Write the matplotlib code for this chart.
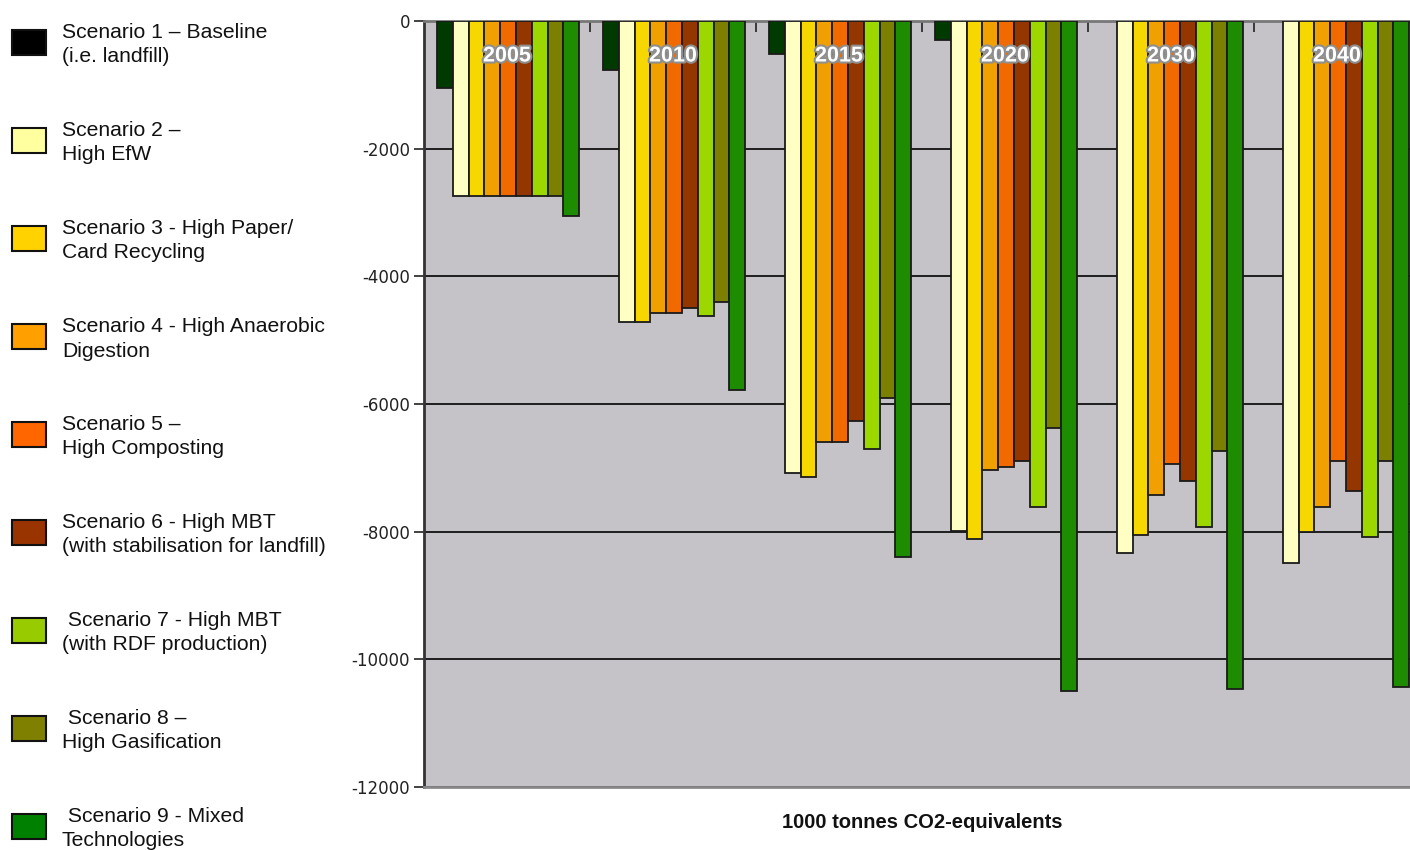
import matplotlib
matplotlib.use("Agg")
import matplotlib.pyplot as plt
import matplotlib.patheffects as pe
import numpy as np
from matplotlib.patches import Rectangle

years = ["2005", "2010", "2015", "2020", "2030", "2040"]
scenario_labels = [
    ["Scenario 1 \u2013 Baseline", "(i.e. landfill)"],
    ["Scenario 2 \u2013", "High EfW"],
    ["Scenario 3 - High Paper/", "Card Recycling"],
    ["Scenario 4 - High Anaerobic", "Digestion"],
    ["Scenario 5 \u2013", "High Composting"],
    ["Scenario 6 - High MBT", "(with stabilisation for landfill)"],
    [" Scenario 7 - High MBT", "(with RDF production)"],
    [" Scenario 8 \u2013", "High Gasification"],
    [" Scenario 9 - Mixed", "Technologies"],
]
s1 = [-1050, -770, -520, -300, 0, 0]
s2 = [-2740, -4710, -7080, -7990, -8330, -8490]
s3 = [-2740, -4710, -7140, -8110, -8050, -8010]
s4 = [-2740, -4580, -6600, -7030, -7420, -7610]
s5 = [-2740, -4580, -6600, -6980, -6940, -6890]
s6 = [-2740, -4500, -6270, -6890, -7210, -7360]
s7 = [-2740, -4620, -6700, -7610, -7920, -8080]
s8 = [-2740, -4400, -5910, -6380, -6740, -6890]
s9 = [-3050, -5780, -8400, -10500, -10470, -10440]
series = [s1, s2, s3, s4, s5, s6, s7, s8, s9]

bar_colors = ["#003a00", "#ffffc4", "#f6d800", "#f0a000", "#f06a00",
              "#943600", "#9cd800", "#7c8000", "#1e8c00"]
legend_colors = ["#000000", "#ffffa0", "#ffd200", "#ff9f00", "#ff6600",
                 "#993300", "#99cc00", "#808000", "#008000"]

W, H = 1410, 850
fig = plt.figure(figsize=(W / 100, H / 100), dpi=100)
fig.patch.set_facecolor("white")

ax_left = 424 / W
ax_right = 1420 / W
ax_bottom = 1 - 787 / H
ax_top = 1 - 21 / H
ax = fig.add_axes([ax_left, ax_bottom, ax_right - ax_left, ax_top - ax_bottom])
ax.set_facecolor("#c5c3c7")

x = np.arange(len(years))
bw = 0.0952
start = -0.422
for i, (vals, col) in enumerate(zip(series, bar_colors)):
    vals = np.array(vals, dtype=float)
    lw = np.where(vals == 0, 0.0, 1.3)
    ax.bar(x + start + (i + 0.5) * bw, vals, width=bw, color=col,
           edgecolor="#1a1a1a", linewidth=lw, zorder=3)

ax.set_xlim(-0.5, len(years) - 0.5)
ax.set_ylim(-12000, 0)
ax.set_yticks(np.arange(-12000, 1, 2000))
ax.set_yticklabels([str(v) for v in np.arange(-12000, 1, 2000)])
ax.yaxis.grid(True, color="#111111", linewidth=1.3, zorder=1)
ax.set_axisbelow(True)
ax.tick_params(axis="y", direction="out", length=7, width=1.2, color="#222222",
               labelsize=12, labelcolor="#222222", pad=3)

ax.xaxis.tick_top()
ax.set_xticks(x[:-1] + 0.5)
ax.set_xticklabels([])
ax.tick_params(axis="x", direction="in", length=8, width=1.2, color="#222222")

ax.spines["left"].set_color("#333333")
ax.spines["left"].set_linewidth(2)
ax.spines["top"].set_color("#777777")
ax.spines["top"].set_linewidth(2)
ax.spines["bottom"].set_color("#8a8a8a")
ax.spines["bottom"].set_linewidth(2)
ax.spines["right"].set_visible(False)

for xi, yr in zip(x, years):
    ax.text(xi, 1 - 35 / 766, yr, transform=ax.get_xaxis_transform(),
            ha="center", va="center", color="white", fontsize=15.5,
            fontweight="bold", family=["Liberation Sans", "DejaVu Sans"], zorder=5,
            path_effects=[pe.withStroke(linewidth=3, foreground="#8f8f8f")])

fig.text(922 / W, 1 - 823 / H, "1000 tonnes CO2-equivalents", ha="center",
         va="center", fontsize=14.5, fontweight="bold",
         family=["Liberation Sans Narrow", "Liberation Sans", "DejaVu Sans"],
         color="#111111")

# legend column
for k, (lines, col) in enumerate(zip(scenario_labels, legend_colors)):
    top = 30 + 98 * k
    fig.patches.append(Rectangle((12 / W, 1 - (top + 25) / H), 34 / W, 25 / H,
                                 transform=fig.transFigure, facecolor=col,
                                 edgecolor="#111111", linewidth=1.5))
    for j, line in enumerate(lines):
        fig.text(62 / W, 1 - (top + 1 + 24 * j) / H, line, ha="left",
                 va="center_baseline", fontsize=15.2,
                 family=["Liberation Sans", "DejaVu Sans"], color="#111111")

fig.savefig("out.png", dpi=100, facecolor="white")
